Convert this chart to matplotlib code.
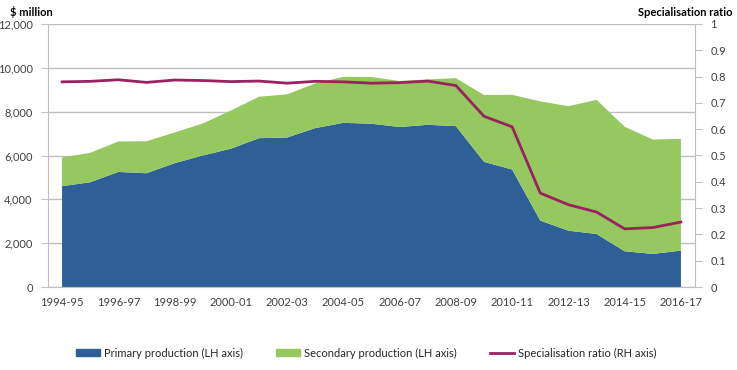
import matplotlib
matplotlib.use('Agg')
import matplotlib.pyplot as plt
from matplotlib.patches import Patch
from matplotlib.lines import Line2D
import numpy as np

years = ['1994-95', '1995-96', '1996-97', '1997-98', '1998-99', '1999-00',
         '2000-01', '2001-02', '2002-03', '2003-04', '2004-05', '2005-06',
         '2006-07', '2007-08', '2008-09', '2009-10', '2010-11', '2011-12',
         '2012-13', '2013-14', '2014-15', '2015-16', '2016-17']
primary = [4600, 4780, 5250, 5190, 5650, 6000, 6310, 6790, 6820, 7250, 7490,
           7450, 7300, 7400, 7340, 5710, 5360, 3030, 2570, 2420, 1630, 1510, 1660]
total = [5910, 6120, 6640, 6650, 7050, 7460, 8050, 8680, 8790, 9290, 9590,
         9580, 9400, 9470, 9530, 8760, 8770, 8470, 8250, 8540, 7310, 6730, 6760]
secondary = [t - p for t, p in zip(total, primary)]
ratio = [0.780, 0.782, 0.788, 0.778, 0.787, 0.785, 0.781, 0.783, 0.775, 0.782,
         0.780, 0.775, 0.777, 0.783, 0.766, 0.649, 0.609, 0.357, 0.313, 0.285,
         0.221, 0.226, 0.247]

blue = '#2E5F96'
green = '#95C85F'
maroon = '#9B2160'
grey = '#BFBFBF'

plt.rcParams['font.family'] = ['Lato', 'DejaVu Sans']
plt.rcParams['font.size'] = 8

fig = plt.figure(figsize=(7.37, 3.70), dpi=100)
ax = fig.add_axes([48 / 737, 1 - 287 / 370, (695 - 48) / 737, (287 - 24) / 370])
x = np.arange(len(years))
ax.stackplot(x, primary, secondary, colors=[blue, green], linewidth=0)
ax.set_xlim(-0.5, len(years) - 0.5)
ax.set_ylim(0, 12000)
ax.set_yticks(np.arange(0, 12001, 2000))
ax.set_yticklabels(['{:,}'.format(v) for v in range(0, 12001, 2000)])
ax.yaxis.grid(True, color=grey, linewidth=1)
ax.set_axisbelow(True)
ax.set_xticks(x[::2])
ax.set_xticklabels(years[::2])
ax.tick_params(axis='x', length=0, pad=7, colors='#404040')
ax.tick_params(axis='y', length=5, color=grey, colors='#404040', pad=6)
for s in ['top', 'right']:
    ax.spines[s].set_visible(False)
for s in ['left', 'bottom']:
    ax.spines[s].set_color(grey)

ax2 = ax.twinx()
ax2.plot(x, ratio, color=maroon, linewidth=2)
ax2.set_ylim(0, 1)
ax2.set_yticks(np.arange(0, 1.01, 0.1))
ax2.set_yticklabels(['0'] + ['{:.1f}'.format(v) for v in np.arange(0.1, 0.95, 0.1)] + ['1'])
ax2.tick_params(axis='y', length=5, color=grey, colors='#404040', pad=6)
for s in ['top', 'left', 'bottom']:
    ax2.spines[s].set_visible(False)
ax2.spines['right'].set_color(grey)

fig.text(10 / 737, 1 - 12 / 370, '$ million', fontweight='bold', va='center', ha='left')
fig.text(733 / 737, 1 - 12 / 370, 'Specialisation ratio', fontweight='bold', va='center', ha='right')

handles = [Patch(color=blue), Patch(color=green), Line2D([0], [0], color=maroon, linewidth=2)]
labels = ['Primary production (LH axis)', 'Secondary production (LH axis)',
          'Specialisation ratio (RH axis)']
fig.legend(handles, labels, loc='center', bbox_to_anchor=(366 / 737, 1 - 353 / 370),
           ncol=3, frameon=False, handlelength=2.2, handleheight=0.6,
           handletextpad=0.3, columnspacing=3.0, labelcolor='#262626')

fig.savefig('out.png', dpi=100)
